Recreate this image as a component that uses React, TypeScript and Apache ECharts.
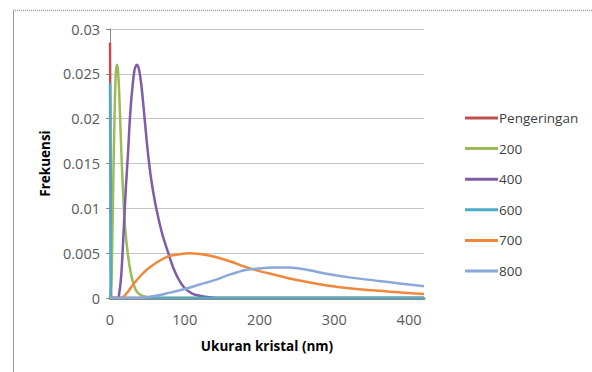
import React, { useEffect, useRef } from "react";
import * as echarts from "echarts";

const seriesNames = ["Pengeringan", "200", "400", "600", "700", "800"];
const seriesColors = ["#C0504D", "#9BBB59", "#7E5CA8", "#4BACC6", "#F0873A", "#8AA8D8"];

const xPengeringan = [0, 1.5, 420];
const yPengeringan = [0.0285, 0, 0];

const x200 = [0, 2, 3, 4, 5, 6, 7, 8, 9, 10, 11, 12, 14, 16, 18, 20, 24, 28, 32, 36, 42, 50, 60, 420];
const y200 = [0, 0.002, 0.006, 0.011, 0.016, 0.02, 0.0235, 0.0253, 0.026, 0.0258, 0.025, 0.0235, 0.019, 0.0145, 0.011, 0.008, 0.0048, 0.0027, 0.0014, 0.0007, 0.0003, 0.0001, 0, 0];

const x400 = [0, 10, 12, 15, 18, 21, 24, 27, 30, 33, 36, 39, 42, 45, 48, 51, 55, 60, 65, 70, 78, 85, 93, 100, 110, 120, 130, 145, 420];
const y400 = [0, 0, 0.0003, 0.0025, 0.007, 0.012, 0.016, 0.0205, 0.0235, 0.0255, 0.026, 0.0254, 0.0237, 0.0212, 0.0185, 0.016, 0.0133, 0.0108, 0.0088, 0.0071, 0.005, 0.0033, 0.0019, 0.0011, 0.0005, 0.00025, 0.0001, 0, 0];

const x600 = [0, 1, 420];
const y600 = [0.024, 0, 0];

const x700 = [0, 15, 20, 25, 30, 40, 50, 65, 80, 95, 105, 120, 140, 160, 180, 200, 220, 250, 290, 320, 360, 390, 420];
const y700 = [0, 0, 0.0003, 0.0008, 0.0014, 0.0024, 0.0032, 0.0041, 0.0047, 0.0049, 0.005, 0.0049, 0.0046, 0.0041, 0.0035, 0.003, 0.0026, 0.002, 0.0014, 0.0011, 0.0008, 0.0006, 0.00045];

const x800 = [0, 40, 50, 65, 80, 100, 120, 140, 160, 180, 200, 220, 240, 260, 290, 320, 360, 390, 420];
const y800 = [0, 0, 0.0001, 0.0003, 0.0006, 0.001, 0.0015, 0.002, 0.0026, 0.0031, 0.0033, 0.0034, 0.0034, 0.0032, 0.0027, 0.0023, 0.0019, 0.0016, 0.0013];

const xs = [xPengeringan, x200, x400, x600, x700, x800];
const ys = [yPengeringan, y200, y400, y600, y700, y800];

const xTitle = "Ukuran kristal (nm)";
const yTitle = "Frekuensi";

const FONT = "'Open Sans', 'Noto Sans', sans-serif";

export default function App() {
  const ref = useRef<HTMLDivElement>(null);
  useEffect(() => {
    if (!ref.current) return;
    const chart = echarts.init(ref.current, null, { renderer: "svg" });
    chart.setOption({
      animation: false,
      backgroundColor: "#ffffff",
      textStyle: { fontFamily: FONT },
      grid: { left: 110, right: 168, top: 29, bottom: 74, containLabel: false },
      legend: {
        orient: "vertical",
        left: 460,
        top: 106,
        icon: "rect",
        itemWidth: 33,
        itemHeight: 3,
        itemGap: 16.6,
        textStyle: { fontFamily: FONT, fontSize: 13.5, color: "#404040", padding: [0, 0, 0, -4] },
        data: seriesNames,
      },
      xAxis: {
        type: "value",
        min: 0,
        max: 420,
        interval: 100,
        name: xTitle,
        nameLocation: "middle",
        nameGap: 41,
        nameTextStyle: { fontFamily: FONT, fontSize: 13.5, fontWeight: "bold", color: "#000000" },
        axisLine: { show: true, lineStyle: { color: "#8a8a8a", width: 3 } },
        axisTick: { show: false },
        splitLine: { show: false },
        axisLabel: { fontFamily: FONT, fontSize: 14.5, color: "#595959", margin: 14 },
      },
      yAxis: {
        type: "value",
        min: 0,
        max: 0.03,
        interval: 0.005,
        name: yTitle,
        nameLocation: "middle",
        nameGap: 58,
        nameTextStyle: { fontFamily: FONT, fontSize: 13.5, fontWeight: "bold", color: "#000000" },
        axisLine: { show: true, lineStyle: { color: "#8a8a8a", width: 1 } },
        axisTick: { show: true, length: 4, lineStyle: { color: "#8a8a8a" } },
        splitLine: { show: true, lineStyle: { color: "#c4c4c4", width: 1 } },
        axisLabel: { fontFamily: FONT, fontSize: 14.5, color: "#595959", margin: 10 },
      },
      graphic: [
        { type: "line", shape: { x1: 13.5, y1: 10, x2: 13.5, y2: 372 }, style: { stroke: "#9a9a9a", lineWidth: 1 } },
        { type: "line", shape: { x1: 13, y1: 10.5, x2: 592, y2: 10.5 }, style: { stroke: "#9a9a9a", lineWidth: 1.5, lineDash: [1, 1] } },
      ],
      series: seriesNames.map((name, i) => ({
        name,
        type: "line",
        data: xs[i].map((x, j) => [x, ys[i][j]]),
        smooth: i === 0 || i === 3 ? false : 0.3,
        showSymbol: false,
        symbol: "none",
        lineStyle: { color: seriesColors[i], width: 2.5 },
        itemStyle: { color: seriesColors[i] },
      })),
    });
    return () => chart.dispose();
  }, []);
  return <div ref={ref} style={{ position: "fixed", left: 0, top: 0, width: 592, height: 372 }} />;
}
